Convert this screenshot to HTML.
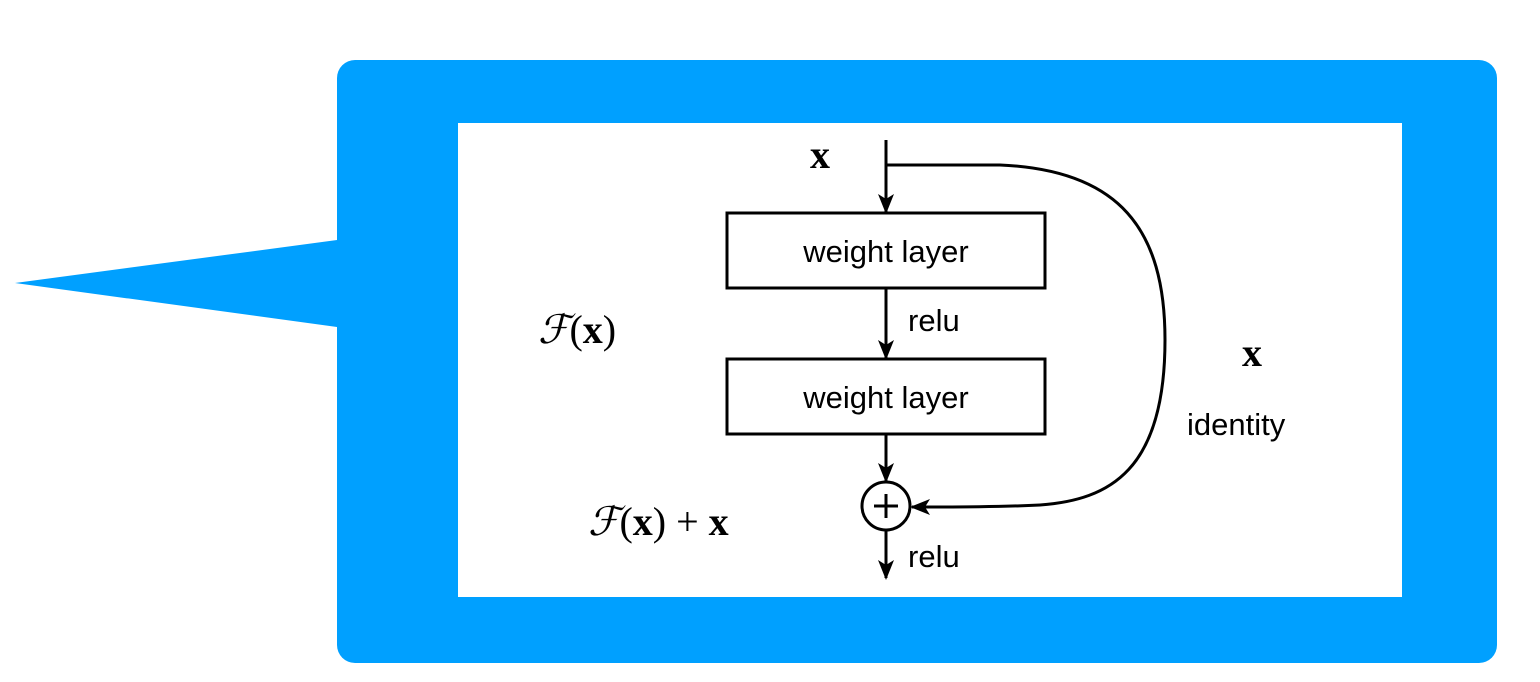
<!DOCTYPE html>
<html><head><meta charset="utf-8"><style>
html,body{margin:0;padding:0;background:#fff;width:1540px;height:682px;overflow:hidden}
</style></head><body>
<svg width="1540" height="682" viewBox="0 0 1540 682" xmlns="http://www.w3.org/2000/svg">
<defs><marker id="a" markerWidth="10" markerHeight="10" refX="9" refY="5" orient="auto" markerUnits="userSpaceOnUse" viewBox="0 0 10 10"><path d="M0,0 L10,5 L0,10 Z" fill="#000"/></marker>
<marker id="b" markerWidth="20" markerHeight="20" refX="18" refY="10" orient="auto" markerUnits="userSpaceOnUse" viewBox="0 0 20 20"><path d="M0,2 L20,10 L0,18 L5,10 Z" fill="#000"/></marker></defs>
<rect x="337" y="60" width="1160" height="603" rx="18" fill="#00a0ff"/>
<polygon points="15,283 337,240 337,327" fill="#00a0ff"/>
<rect x="458" y="123" width="944" height="474" fill="#fff"/>
<g stroke="#000" stroke-width="3" fill="none">
<line x1="886" y1="140" x2="886" y2="212" marker-end="url(#b)"/>
<rect x="727" y="213" width="318" height="75"/>
<line x1="886" y1="288" x2="886" y2="358" marker-end="url(#b)"/>
<rect x="727" y="359" width="318" height="75"/>
<line x1="886" y1="434" x2="886" y2="481" marker-end="url(#b)"/>
<circle cx="886" cy="506" r="24"/>
<line x1="874" y1="506" x2="898" y2="506"/>
<line x1="886" y1="494" x2="886" y2="518"/>
<line x1="886" y1="530" x2="886" y2="578" marker-end="url(#b)"/>
<path d="M886,165 L1000,165 C1120,170 1165,230 1165,340 C1165,470 1110,500 1040,505 C1000,507 960,507 912,507" marker-end="url(#b)"/>
</g>
<g font-family="Liberation Sans, DejaVu Sans, sans-serif" font-size="31" fill="#000">
<text x="886" y="262" text-anchor="middle">weight layer</text>
<text x="886" y="408" text-anchor="middle">weight layer</text>
<text x="908" y="331">relu</text>
<text x="908" y="567">relu</text>
<text x="1187" y="435">identity</text>
</g>
<g font-family="Liberation Serif, DejaVu Serif, serif" font-size="40" fill="#000">
<text x="810" y="168" font-weight="bold">x</text>
<text x="1242" y="366" font-weight="bold">x</text>
<text x="538" y="343"><tspan font-style="italic">ℱ</tspan>(<tspan font-weight="bold">x</tspan>)</text>
<text x="588" y="535"><tspan font-style="italic">ℱ</tspan>(<tspan font-weight="bold">x</tspan>) + <tspan font-weight="bold">x</tspan></text>
</g>
</svg>
</body></html>
